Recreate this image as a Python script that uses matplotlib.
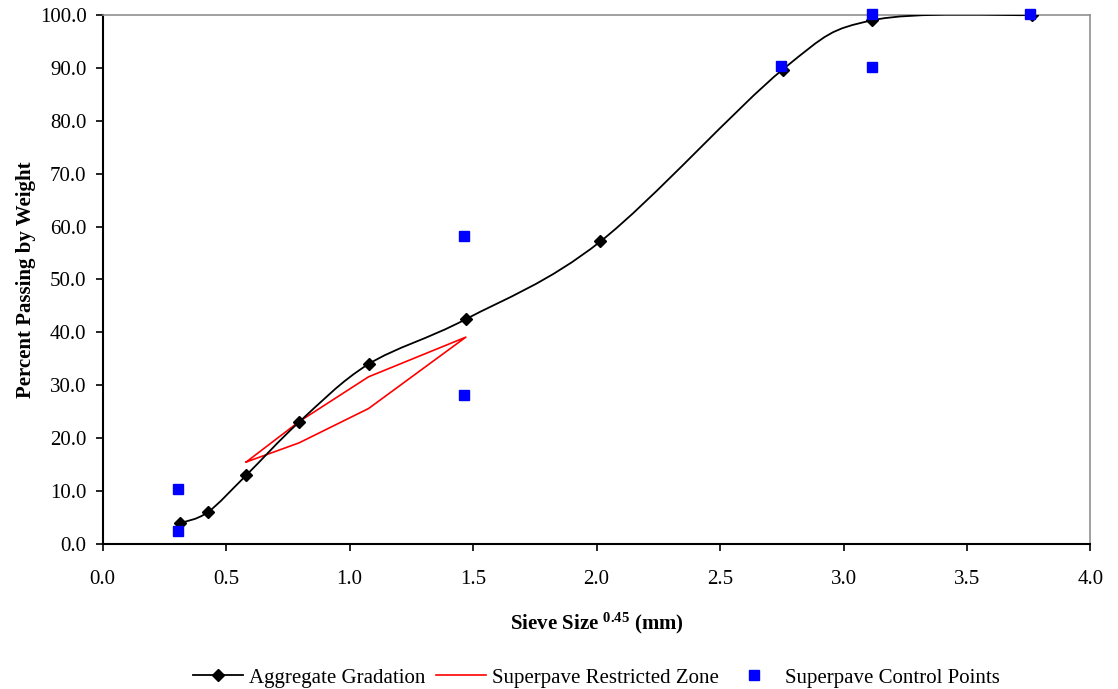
import matplotlib
matplotlib.use("Agg")
import matplotlib.pyplot as plt
from matplotlib.path import Path
from matplotlib.patches import PathPatch
from matplotlib.lines import Line2D
import numpy as np

plt.rcParams['font.family'] = ['Liberation Serif', 'DejaVu Serif']
plt.rcParams['mathtext.fontset'] = 'custom'
plt.rcParams['mathtext.rm'] = 'Liberation Serif'
plt.rcParams['mathtext.bf'] = 'Liberation Serif:bold'

# Data
grad_x = [0.312, 0.426, 0.582, 0.795, 1.077, 1.471, 2.016, 2.754, 3.116, 3.762]
grad_y = [3.9, 6.0, 13.0, 23.0, 34.0, 42.5, 57.2, 89.7, 99.0, 100.0]

zone_x = [0.582, 0.795, 1.077, 1.471, 1.077, 0.795, 0.582]
zone_y = [15.5, 23.1, 31.6, 39.1, 25.6, 19.1, 15.5]

ctrl_x = [0.306, 0.306, 1.465, 1.465, 2.745, 3.114, 3.114, 3.756]
ctrl_y = [10.3, 2.4, 58.3, 28.2, 90.3, 90.2, 100.2, 100.2]

xticks = [0.0, 0.5, 1.0, 1.5, 2.0, 2.5, 3.0, 3.5, 4.0]
yticks = [0, 10, 20, 30, 40, 50, 60, 70, 80, 90, 100]

fig = plt.figure(figsize=(11.18, 6.89), dpi=100)
ax = fig.add_axes([0.0917, 0.2105, 0.9754 - 0.0917, 0.9782 - 0.2105])

# Smoothed line (Catmull-Rom style Bezier like Excel smoothing)
P = np.column_stack([grad_x, grad_y])
verts = [tuple(P[0])]
codes = [Path.MOVETO]
n = len(P)
for i in range(n - 1):
    p0 = P[i - 1] if i > 0 else P[i]
    p1 = P[i]
    p2 = P[i + 1]
    p3 = P[i + 2] if i + 2 < n else P[i + 1]
    c1 = p1 + (p2 - p0) / 6.0
    c2 = p2 - (p3 - p1) / 6.0
    verts += [tuple(c1), tuple(c2), tuple(p2)]
    codes += [Path.CURVE4] * 3
ax.add_patch(PathPatch(Path(verts, codes), facecolor='none', edgecolor='black', lw=1.3, zorder=3))
ax.plot(grad_x, grad_y, linestyle='none', marker='D', color='black', markersize=6.5, zorder=4)

ax.plot(zone_x, zone_y, color='#ff0000', lw=1.2, zorder=2)
ax.plot(ctrl_x, ctrl_y, linestyle='none', marker='s', color='#0000ff', markersize=7, zorder=5, clip_on=False)

ax.set_xlim(0, 4)
ax.set_ylim(0, 100)
ax.set_xticks(xticks)
ax.set_yticks(yticks)
ax.set_xticklabels([f"{v:.1f}" for v in xticks])
ax.set_yticklabels([f"{v:.1f}" for v in yticks])
ax.tick_params(labelsize=15, direction='out', length=5, width=1.2, colors='black')
ax.tick_params(axis='x', pad=13.5)
ax.tick_params(axis='y', pad=6.5)

for s in ['top', 'right']:
    ax.spines[s].set_color('#909090')
    ax.spines[s].set_linewidth(1.2)
for s in ['left', 'bottom']:
    ax.spines[s].set_color('black')
    ax.spines[s].set_linewidth(1.5)

ax.set_xlabel(r"Sieve Size $\mathbf{^{0.45}}$ (mm)", fontsize=15, fontweight='bold', labelpad=16)
ax.set_ylabel("Percent Passing by Weight", fontsize=15, fontweight='bold', labelpad=3)

handles = [
    Line2D([], [], color='black', marker='D', markersize=6.5, lw=1.3),
    Line2D([], [], color='#ff0000', lw=1.2),
    Line2D([], [], color='#0000ff', marker='s', linestyle='none', markersize=7),
]
labels = ["Aggregate Gradation", "Superpave Restricted Zone", "Superpave Control Points"]
ax.legend(handles, labels, loc='center', bbox_to_anchor=(0.5, -0.253), ncol=3, frameon=False,
          fontsize=15, handlelength=2.4, columnspacing=0.5, handletextpad=0.3)

fig.savefig("out.png", dpi=100)
